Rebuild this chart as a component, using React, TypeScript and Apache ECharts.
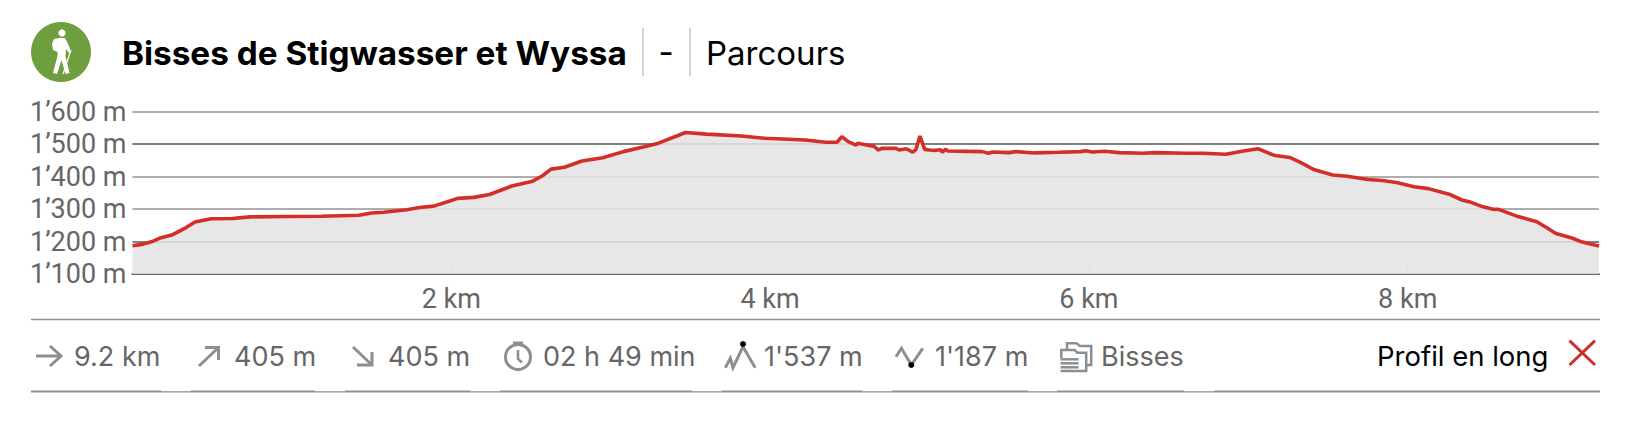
import React, { useEffect, useRef } from "react";
import * as echarts from "echarts";

const distancesKm = [0,0.067,0.123,0.168,0.246,0.336,0.392,0.493,0.627,0.739,0.963,1.187,1.42,1.5,1.576,1.72,1.8,1.89,1.99,2.04,2.14,2.24,2.31,2.38,2.51,2.57,2.626,2.71,2.82,2.95,3.08,3.21,3.3,3.47,3.6,3.82,3.97,4.22,4.35,4.42,4.45,4.49,4.54,4.55,4.62,4.65,4.68,4.7,4.79,4.81,4.855,4.895,4.915,4.94,4.97,5,5.04,5.07,5.08,5.1,5.115,5.33,5.37,5.395,5.5,5.54,5.66,5.81,5.947,5.98,6.02,6.1,6.19,6.34,6.41,6.61,6.72,6.86,6.96,7.06,7.16,7.26,7.33,7.41,7.53,7.62,7.75,7.84,7.93,8.04,8.13,8.26,8.34,8.39,8.46,8.53,8.57,8.68,8.81,8.87,8.93,9.03,9.09,9.14,9.2];
const elevationsM = [1187,1192,1200,1210,1220,1243,1260,1270,1271,1276,1277,1278,1281,1288,1290,1298,1305,1309,1325,1333,1336,1345,1358,1371,1386,1402,1423,1429,1448,1458,1477,1492,1503,1536,1531,1525,1518,1513,1506,1506,1523,1508,1497,1503,1496,1494,1482,1487,1487,1482,1486,1475,1484,1525,1484,1482,1481,1483,1475,1484,1479,1477,1472,1476,1474,1477,1473,1475,1477,1480,1476,1478,1474,1472,1474,1472,1472,1469,1478,1486,1466,1459,1443,1422,1405,1401,1391,1388,1382,1369,1363,1346,1328,1322,1309,1300,1299,1279,1261,1243,1225,1211,1199,1193,1186];
const xTickValues = [2, 4, 6, 8];
const yTickValues = [1100, 1200, 1300, 1400, 1500, 1600];
const yTickLabels = ["1’100 m", "1’200 m", "1’300 m", "1’400 m", "1’500 m", "1’600 m"];
const title = "Bisses de Stigwasser et Wyssa";
const subtitle = "Parcours";
const statTexts = ["9.2 km", "405 m", "405 m", "02 h 49 min", "1'537 m", "1'187 m", "Bisses"];
const statXs = [74, 234, 388, 543, 764, 935, 1101];
const bottomGaps = [[161,191],[315,345],[470,500],[692,722],[862,892],[1028,1057],[1184,1214]];

const FONT = "Inter";
const AXIS_FONT = "Roboto";
const ICON = "#8a8f94";
const TEXT = "#666666";

echarts.graphic.registerShape("hiker", echarts.graphic.extendPath(
  "M59.5 38 L65 38 L69 46 L71 52 L69 53 L66 49 L65.5 56 L69.5 73 L65.5 74 L61.5 60 L57 74 L53 73 L57.5 56 L57.5 52 L53 50 L52 44 L54 39 Z",
  {}
));

const poly = (points: number[][], stroke = ICON, lineWidth = 3) => ({
  type: "polyline",
  shape: { points },
  style: { stroke, lineWidth, fill: "none" },
  silent: true,
});
const hline = (x1: number, x2: number, y: number, stroke: string, lineWidth: number) => ({
  type: "line",
  shape: { x1, y1: y, x2, y2: y },
  style: { stroke, lineWidth },
  silent: true,
});

export default function App() {
  const ref = useRef<HTMLDivElement>(null);
  useEffect(() => {
    const chart = echarts.init(ref.current!, null, { renderer: "svg" });
    const graphics: any[] = [
      { type: "circle", shape: { cx: 61, cy: 52, r: 30 }, style: { fill: "#6f9e3f" } },
      { type: "circle", shape: { cx: 62, cy: 33, r: 3.6 }, style: { fill: "#fff" } },
      { type: "hiker", x: 0, y: 0, style: { fill: "#fff" } },
      { type: "line", shape: { x1: 71, y1: 50, x2: 63, y2: 74 }, style: { stroke: "#fff", lineWidth: 1.2 } },
      { type: "text", x: 122, y: 53, style: { text: title, font: `bold 33.3px ${FONT}`, fill: "#000", textVerticalAlign: "middle" } },
      { type: "line", shape: { x1: 643, y1: 28, x2: 643, y2: 76 }, style: { stroke: "#aaa", lineWidth: 1 } },
      { type: "text", x: 666, y: 52, style: { text: "-", font: `33px ${FONT}`, fill: "#000", textAlign: "center", textVerticalAlign: "middle" } },
      { type: "line", shape: { x1: 690, y1: 28, x2: 690, y2: 76 }, style: { stroke: "#aaa", lineWidth: 1 } },
      { type: "text", x: 706, y: 53, style: { text: subtitle, font: `33px ${FONT}`, fill: "#000", textVerticalAlign: "middle" } },
      hline(31, 1600, 319.5, "#8f9194", 1.5),
      hline(31, 1600, 391.5, "#8f9194", 2.2),
      ...bottomGaps.map(([a, b]) => ({ type: "rect", shape: { x: a, y: 390, width: b - a, height: 1.2 }, style: { fill: "#fff" }, silent: true })),
      ...statTexts.map((text, i) => ({
        type: "text", x: statXs[i], y: 356,
        style: { text, font: `27px ${FONT}`, fill: TEXT, textVerticalAlign: "middle" },
      })),
      { type: "text", x: 1377, y: 356, style: { text: "Profil en long", font: `27.5px ${FONT}`, fill: "#000", textVerticalAlign: "middle" } },
      poly([[36, 356], [61, 356]]),
      poly([[50, 346], [61, 356], [50, 366]]),
      poly([[199, 366], [218.5, 347.5]]),
      poly([[205, 347.5], [218.5, 347.5], [218.5, 360]]),
      poly([[353, 347], [372, 365]]),
      poly([[372, 352], [372, 365], [357, 365]]),
      { type: "circle", shape: { cx: 518, cy: 357, r: 12.5 }, style: { stroke: ICON, lineWidth: 3, fill: "none" } },
      poly([[518, 343], [518, 345]]),
      poly([[513, 343], [523, 343]]),
      poly([[518, 350], [518, 359], [522, 362.5]], ICON, 2.5),
      poly([[725.3, 367.7], [730.3, 358.3], [733, 367.7], [743, 346.7], [755.2, 367.7]]),
      { type: "circle", shape: { cx: 743, cy: 344, r: 3 }, style: { fill: "#000" } },
      poly([[896, 356.7], [901.4, 348.3], [911.3, 365], [922.8, 348.3]]),
      { type: "circle", shape: { cx: 911.3, cy: 365, r: 3 }, style: { fill: "#000" } },
      poly([[1067, 350], [1067, 343.3], [1076.6, 343.3], [1079.7, 346], [1091.2, 346], [1091.2, 365], [1086.2, 365]], ICON, 2.5),
      poly([[1061.3, 358.3], [1061.3, 350], [1074.7, 350], [1077.4, 352.7], [1086.2, 352.7], [1086.2, 371], [1060.6, 371]], ICON, 2.5),
      poly([[1060.6, 359.3], [1078.6, 359.3]], ICON, 2.5),
      poly([[1060.6, 363.3], [1078.6, 363.3]], ICON, 2.5),
      poly([[1060.6, 367.3], [1078.6, 367.3]], ICON, 2.5),
      poly([[1569.5, 340.7], [1595, 365]], "#c8322f", 3),
      poly([[1595, 340.7], [1569.5, 365]], "#c8322f", 3),
    ];
    chart.setOption({
      animation: false,
      grid: { left: 132.5, right: 31, top: 111.7, bottom: 150, containLabel: false },
      xAxis: {
        type: "value", min: 0, max: 9.2, interval: 2,
        axisLine: { show: true, onZero: false, lineStyle: { color: "#666", width: 2.2 } },
        axisTick: { show: true, inside: true, length: 9, customValues: xTickValues, lineStyle: { color: "#ccc", width: 1 } },
        axisLabel: {
          customValues: xTickValues, formatter: (v: number) => `${v} km`,
          color: TEXT, fontFamily: AXIS_FONT, fontSize: 27, margin: 11,
        },
        splitLine: { show: false },
      },
      yAxis: {
        type: "value", min: 1100, max: 1600, interval: 100,
        axisLine: { show: false }, axisTick: { show: false },
        axisLabel: {
          formatter: (v: number) => yTickLabels[yTickValues.indexOf(v)] ?? "",
          color: TEXT, fontFamily: AXIS_FONT, fontSize: 27, margin: 6,
          showMinLabel: true, showMaxLabel: true,
        },
        splitLine: {
          show: true,
          lineStyle: { color: ["#666", "#808080", "#aeaeae", "#aeaeae", "#808080", "#aeaeae"], width: 2 },
        },
      },
      series: [{
        type: "line",
        data: distancesKm.map((d, i) => [d, elevationsM[i]]),
        showSymbol: false,
        symbol: "none",
        lineStyle: { color: "#d42e29", width: 3.6 },
        areaStyle: { color: "#e4e4e4", opacity: 0.87 },
      }],
      graphic: graphics,
    });
    return () => chart.dispose();
  }, []);
  return <div ref={ref} style={{ position: "absolute", left: 0, top: 0, width: 1630, height: 424 }} />;
}
